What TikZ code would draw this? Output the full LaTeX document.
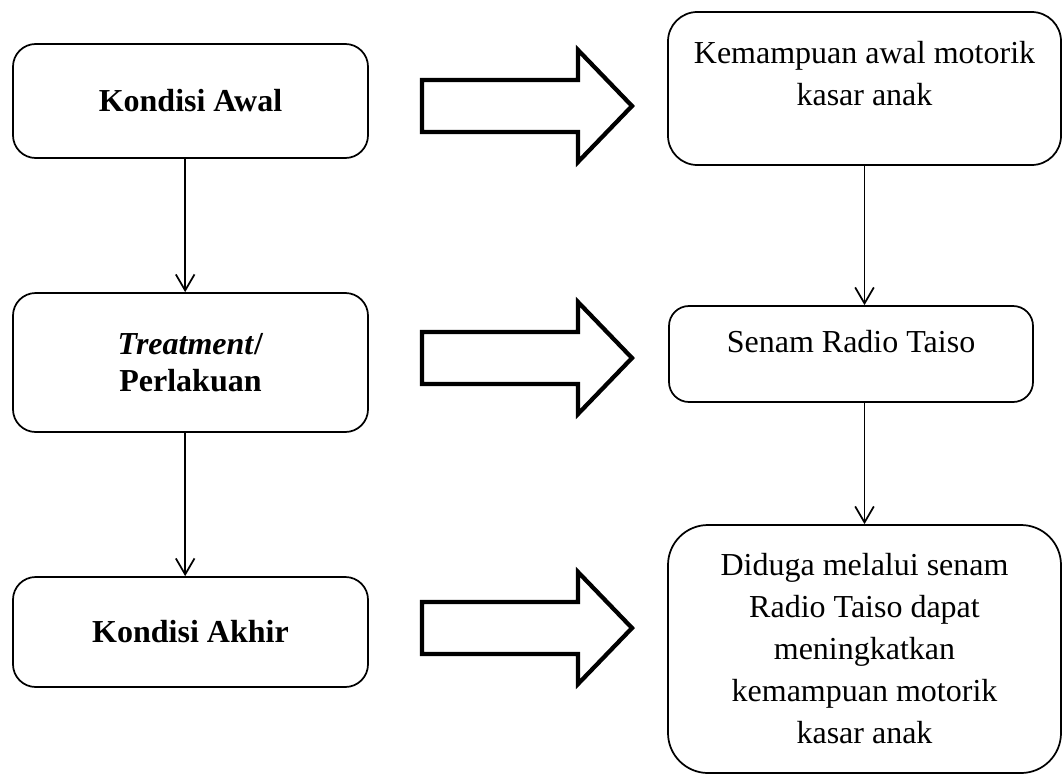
\documentclass[tikz,border=0pt]{standalone}
\usepackage{fontspec}
\setmainfont{Liberation Serif}
\usetikzlibrary{arrows.meta}
\begin{document}
\begin{tikzpicture}[x=0.75pt,y=-0.75pt,
  box/.style={draw,line width=1.3pt,rounded corners=#1,align=center,inner sep=0pt,
    font=\fontsize{24}{31.5}\selectfont},
  conn/.style={line width=1.3pt,-{Straight Barb[length=12pt,width=14pt,line width=1.3pt]}},
  blk/.style={line width=3.2pt,fill=white,line join=miter,miter limit=10}]
\useasboundingbox (0,0) rectangle (1062,774);
% left column
\node[box=17pt,minimum width=355*0.75pt,minimum height=114*0.75pt] (awal) at (190.5,101)
  {\textbf{Kondisi Awal}};
\node[box=17pt,minimum width=355*0.75pt,minimum height=139*0.75pt,
  font=\fontsize{24}{27.75}\selectfont] (treat) at (190.5,362.5)
  {\textbf{\textit{Treatment}/}\\\textbf{Perlakuan}};
\node[box=17pt,minimum width=355*0.75pt,minimum height=110*0.75pt] (akhir) at (190.5,632)
  {\textbf{Kondisi Akhir}};
% right column
\node[box=22pt,minimum width=393*0.75pt,minimum height=153*0.75pt] (kem) at (864.5,88.5)
  {\raisebox{9pt}[\height][\depth]{\begin{tabular}{@{}c@{}}Kemampuan awal motorik\\kasar anak\end{tabular}}};
\node[box=15pt,minimum width=364*0.75pt,minimum height=96*0.75pt] (senam) at (851,354)
  {\raisebox{9pt}[\height][\depth]{Senam Radio Taiso}};
\node[box=30pt,minimum width=393*0.75pt,minimum height=248*0.75pt] (duga) at (864.5,649)
  {Diduga melalui senam\\Radio Taiso dapat\\meningkatkan\\kemampuan motorik\\kasar anak};
% vertical connectors
\draw[conn] ([xshift=-4pt]awal.south) -- ([xshift=-4pt]treat.north);
\draw[conn] ([xshift=-4pt]treat.south) -- ([xshift=-4pt]akhir.north);
\draw[conn] (kem.south) -- (kem.south |- senam.north);
\draw[conn] (kem.south |- senam.south) -- (kem.south |- duga.north);
% block arrows
\foreach \c in {106,358,628}{
  \draw[blk] (422,\c-26) -- (578,\c-26) -- (578,\c-56) -- (632,\c)
    -- (578,\c+56) -- (578,\c+26) -- (422,\c+26) -- cycle;
}
\end{tikzpicture}
\end{document}
